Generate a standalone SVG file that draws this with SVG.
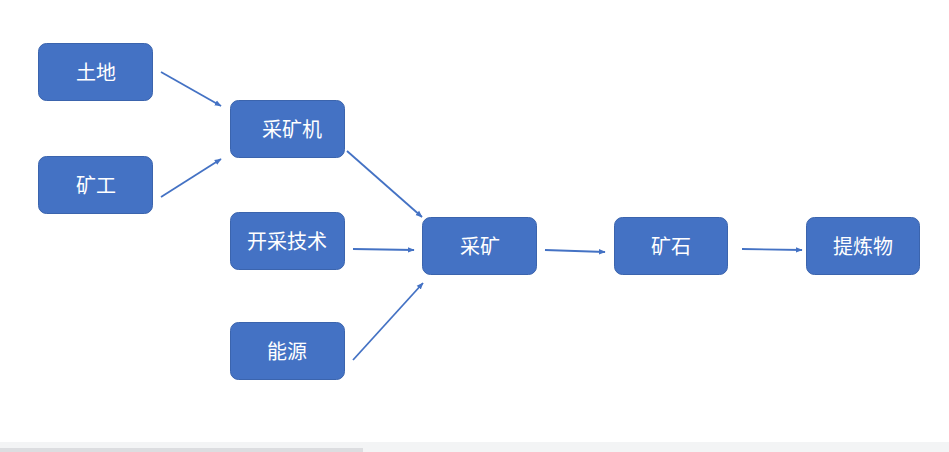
<svg xmlns="http://www.w3.org/2000/svg" width="949" height="452" viewBox="0 0 949 452">
<style>
.box{fill:#4472c4;stroke:#3b64ad;stroke-width:1}
.lbl{font-family:"Noto Sans CJK SC","Liberation Sans",sans-serif;font-size:20px;fill:#ffffff;text-anchor:middle;dominant-baseline:central}
.conn{stroke:#4472c4;stroke-width:1.8;fill:none;marker-end:url(#ah)}
</style>
<defs>
<marker id="ah" viewBox="0 0 10 10" refX="9" refY="5" markerWidth="7" markerHeight="7" markerUnits="userSpaceOnUse" orient="auto">
<path d="M0,1 L10,5 L0,9 z" fill="#4472c4"/>
</marker>
</defs>
<rect width="949" height="452" fill="#ffffff"/>
<g id="connectors">
<line class="conn" x1="161" y1="72" x2="221" y2="106"/>
<line class="conn" x1="161" y1="197" x2="221" y2="159"/>
<line class="conn" x1="347" y1="151" x2="422" y2="217"/>
<line class="conn" x1="353" y1="249" x2="414" y2="250"/>
<line class="conn" x1="353" y1="360" x2="423" y2="283"/>
<line class="conn" x1="545" y1="250" x2="605" y2="252"/>
<line class="conn" x1="742" y1="249" x2="802" y2="250"/>
</g>
<g id="n-land"><rect class="box" x="38.5" y="43.5" width="114" height="57" rx="8"/><text class="lbl" x="96" y="71">土地</text></g>
<g id="n-miner"><rect class="box" x="38.5" y="156.5" width="114" height="57" rx="8"/><text class="lbl" x="96" y="184">矿工</text></g>
<g id="n-machine"><rect class="box" x="230.5" y="100.5" width="114" height="57" rx="8"/><text class="lbl" x="292" y="128">采矿机</text></g>
<g id="n-tech"><rect class="box" x="230.5" y="212.5" width="114" height="57" rx="8"/><text class="lbl" x="287" y="240">开采技术</text></g>
<g id="n-energy"><rect class="box" x="230.5" y="322.5" width="114" height="57" rx="8"/><text class="lbl" x="287" y="350">能源</text></g>
<g id="n-mining"><rect class="box" x="422.5" y="217.5" width="114" height="57" rx="8"/><text class="lbl" x="480" y="245">采矿</text></g>
<g id="n-ore"><rect class="box" x="614.5" y="217.5" width="113" height="57" rx="8"/><text class="lbl" x="671" y="245">矿石</text></g>
<g id="n-refined"><rect class="box" x="806.5" y="217.5" width="113" height="57" rx="8"/><text class="lbl" x="863" y="245">提炼物</text></g>
<rect x="0" y="442" width="949" height="10" fill="#f3f4f5"/>
<rect x="0" y="448" width="363" height="4" fill="#dcdde0"/>
</svg>
